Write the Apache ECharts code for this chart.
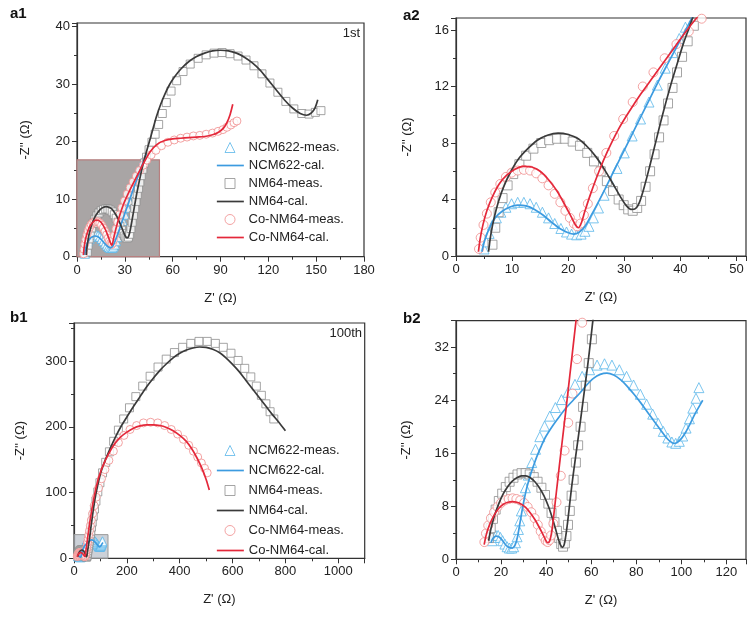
<!DOCTYPE html>
<html><head><meta charset="utf-8">
<script src="https://cdn.jsdelivr.net/npm/echarts@6/dist/echarts.min.js"></script>
<style>html,body{margin:0;padding:0;background:#fff}#c{width:749px;height:621px}</style>
</head><body><div id="c"></div>
<script>
// ---------- 1st cycle ----------
const NCM622_1st_meas = [[5.0,0.5],[5.4,1.0],[5.9,1.6],[6.5,2.2],[7.2,2.7],[8.0,3.1],[8.9,3.45],[9.9,3.7],[11.0,3.8],[12.1,3.8],[13.2,3.7],[14.3,3.45],[15.4,3.1],[16.5,2.7],[17.6,2.3],[18.7,1.95],[19.7,1.7],[20.6,1.55],[21.5,1.5],[22.3,1.55],[23.0,1.75],[23.7,2.1],[24.5,2.7],[25.4,3.4],[26.4,4.3],[27.5,5.2],[28.7,6.2],[30.0,7.3],[31.4,8.5],[32.9,9.7],[34.4,10.9],[35.9,12.1],[37.3,13.3],[38.6,14.4],[39.8,15.4],[40.9,16.2],[41.9,16.9]];
const NCM622_1st_cal = [[4.6,0.3],[5.2,1.2],[6.0,2.0],[7.0,2.7],[8.0,3.1],[9.5,3.45],[11.0,3.6],[12.5,3.55],[14.0,3.3],[15.5,2.9],[17.0,2.4],[18.5,1.95],[20.0,1.65],[21.0,1.55],[22.0,1.7],[23.0,2.1],[24.0,2.8],[26.0,4.3],[28.0,5.9],[30.0,7.5],[32.0,9.1],[34.0,10.7],[36.0,12.3],[38.0,13.8],[40.0,15.3],[42.0,16.8],[43.5,17.9]];
const NM64_1st_meas = [[6.5,0.8],[7.0,2.0],[7.6,3.1],[8.3,4.1],[9.2,5.0],[10.2,5.8],[11.3,6.5],[12.5,7.1],[13.8,7.6],[15.2,8.0],[16.6,8.2],[18.0,8.3],[19.4,8.3],[20.8,8.1],[22.1,7.8],[23.4,7.3],[24.6,6.7],[25.8,6.0],[26.9,5.3],[28.0,4.6],[29.0,4.0],[29.9,3.6],[30.7,3.3],[31.5,3.2],[32.3,3.4],[33.0,3.9],[33.8,4.9],[34.6,6.0],[35.4,7.2],[36.2,8.4],[37.0,9.6],[37.8,10.8],[38.6,11.9],[39.4,13.0],[40.3,14.1],[41.3,15.2],[42.4,16.3],[43.6,17.3],[45.2,18.6],[47.0,19.9],[49.0,21.3],[51.2,23.0],[53.5,24.9],[56.0,26.8],[59.0,28.8],[62.5,30.6],[66.5,32.2],[71.0,33.5],[76.0,34.5],[81.0,35.1],[86.0,35.4],[91.0,35.5],[96.0,35.3],[101.0,34.9],[106.0,34.2],[111.0,33.2],[116.0,31.8],[121.0,30.2],[126.0,28.6],[131.0,27.0],[136.0,25.7],[141.0,24.9],[145.5,24.8],[149.5,25.1],[153.0,25.4]];
const NM64_1st_cal = [[5.8,0.3],[6.2,1.5],[6.8,2.7],[7.6,3.9],[8.6,5.0],[9.8,6.0],[11.2,6.9],[12.8,7.6],[14.5,8.2],[16.3,8.55],[18.2,8.7],[20.0,8.6],[21.8,8.3],[23.5,7.7],[25.0,7.0],[26.5,6.1],[28.0,5.1],[29.3,4.2],[30.3,3.6],[31.2,3.3],[32.0,3.35],[32.7,3.8],[33.5,4.8],[34.5,6.3],[35.5,7.9],[36.5,9.5],[37.5,11.0],[38.5,12.4],[39.5,13.7],[40.5,15.0],[41.5,16.1],[42.5,17.2],[44.0,18.7],[46.0,20.6],[48.0,22.6],[50.0,24.5],[52.5,26.5],[55.0,28.2],[58.0,29.9],[61.0,31.2],[65.0,32.6],[70.0,33.9],[75.0,34.8],[80.0,35.4],[85.0,35.8],[90.0,35.9],[95.0,35.8],[100.0,35.4],[105.0,34.7],[110.0,33.7],[115.0,32.4],[120.0,30.7],[125.0,29.0],[130.0,27.3],[135.0,25.9],[140.0,24.9],[144.0,24.6],[147.0,25.0],[149.3,25.9],[151.0,27.3]];
const CoNM64_1st_meas = [[4.1,0.5],[4.4,1.3],[4.9,2.2],[5.5,3.0],[6.2,3.8],[7.0,4.5],[7.9,5.1],[8.9,5.6],[9.9,5.9],[11.0,6.05],[12.1,6.1],[13.2,6.05],[14.3,5.85],[15.4,5.5],[16.5,5.0],[17.6,4.4],[18.6,3.8],[19.5,3.2],[20.3,2.7],[21.0,2.3],[21.6,2.1],[22.2,2.3],[22.8,2.9],[23.5,3.7],[24.4,4.8],[25.5,6.0],[26.8,7.3],[28.2,8.5],[29.8,9.7],[31.5,10.9],[33.3,12.0],[35.2,13.0],[37.2,14.0],[39.3,15.0],[41.5,15.9],[43.8,16.8],[46.5,17.7],[49.5,18.5],[53.0,19.3],[57.0,19.9],[61.0,20.3],[65.0,20.6],[69.0,20.8],[73.0,21.0],[77.0,21.1],[81.0,21.3],[85.0,21.5],[88.5,21.8],[91.5,22.1],[94.0,22.5],[96.5,22.9],[98.5,23.3],[100.3,23.6]];
const CoNM64_1st_cal = [[4.0,0.3],[4.3,1.2],[4.8,2.2],[5.5,3.2],[6.5,4.2],[7.7,5.1],[9.0,5.7],[10.5,6.15],[12.0,6.35],[13.5,6.3],[15.0,6.0],[16.5,5.4],[18.0,4.6],[19.3,3.7],[20.5,2.8],[21.3,2.2],[21.8,2.0],[22.3,2.3],[23.0,3.2],[24.0,4.4],[25.5,6.0],[27.0,7.4],[29.0,9.0],[31.0,10.3],[33.0,11.5],[35.0,12.6],[37.0,13.7],[39.0,14.8],[41.0,15.9],[43.0,16.9],[46.0,18.3],[50.0,19.5],[55.0,20.2],[60.0,20.5],[65.0,20.6],[70.0,20.7],[75.0,20.8],[80.0,20.9],[85.0,21.2],[89.0,21.7],[92.0,22.4],[94.0,23.3],[96.0,24.7],[97.7,26.5]];

// ---------- 100th cycle ----------
const NCM622_100_meas = [[16.0,2.8],[16.8,3.3],[17.7,3.6],[18.7,3.6],[19.7,3.3],[20.7,2.8],[21.7,2.3],[22.7,1.9],[23.7,1.7],[24.7,1.7],[25.6,1.9],[26.4,2.5],[27.1,3.4],[27.7,4.5],[28.3,5.8],[29.0,7.3],[29.8,9.0],[30.8,10.8],[32.1,12.7],[33.6,14.6],[35.3,16.6],[37.2,18.5],[39.3,20.1],[41.6,21.6],[44.1,22.9],[46.8,24.1],[49.7,25.2],[52.8,26.4],[56.0,27.6],[59.3,28.6],[62.6,29.3],[65.9,29.5],[69.2,29.3],[72.5,28.6],[75.7,27.6],[78.8,26.3],[81.8,24.9],[84.6,23.4],[87.3,21.9],[89.8,20.5],[92.0,19.3],[94.0,18.3],[95.8,17.7],[97.5,17.5],[99.1,17.8],[100.6,18.6],[102.1,19.8],[103.6,21.2],[105.1,22.8],[106.5,24.3],[107.8,25.9]];
const NCM622_100_cal = [[15.5,2.5],[16.5,3.2],[17.8,3.5],[19.0,3.4],[20.5,2.9],[22.0,2.2],[23.5,1.8],[25.0,1.7],[26.3,2.2],[27.3,3.4],[28.3,5.3],[29.3,7.3],[30.3,9.1],[31.5,10.9],[33.0,12.7],[34.5,14.2],[36.0,15.6],[38.0,17.2],[40.0,18.6],[43.0,20.2],[46.0,21.6],[49.0,22.9],[52.0,24.0],[55.0,25.1],[58.0,26.3],[61.0,27.3],[64.0,27.9],[67.0,28.1],[70.0,27.8],[73.0,27.1],[76.0,26.1],[79.0,24.9],[82.0,23.6],[85.0,22.2],[88.0,20.8],[91.0,19.4],[93.0,18.5],[95.0,17.8],[96.5,17.5],[98.0,17.6],[100.0,18.2],[102.0,19.2],[104.0,20.5],[106.0,21.9],[108.0,23.1],[109.5,24.0]];
const NM64_100_meas = [[14.6,3.2],[15.4,4.7],[16.4,6.1],[17.6,7.5],[19.0,8.8],[20.5,9.9],[22.1,10.9],[23.8,11.7],[25.5,12.3],[27.3,12.8],[29.1,13.0],[30.9,13.0],[32.7,12.8],[34.5,12.4],[36.2,11.7],[37.9,10.8],[39.5,9.7],[41.0,8.4],[42.4,7.0],[43.7,5.6],[44.8,4.3],[45.8,3.2],[46.7,2.3],[47.5,1.9],[48.3,2.4],[49.0,3.5],[49.7,5.2],[50.5,7.3],[51.3,9.6],[52.2,12.0],[53.2,14.6],[54.2,17.2],[55.3,20.0],[56.4,23.0],[57.6,26.2],[58.9,29.6],[60.3,33.2],[61.8,37.0],[63.6,41.4],[66.0,47.5],[69.0,55.0],[72.8,64.0],[77.5,75.0],[83.0,87.0],[90.0,101.0],[98.0,115.0],[108.0,130.0],[120.0,146.0],[134.0,162.0],[150.0,178.0],[168.0,195.0],[188.0,212.0],[210.0,229.0],[234.0,246.0],[260.0,262.0],[288.0,277.0],[318.0,291.0],[349.0,303.0],[380.0,313.0],[411.0,321.0],[442.0,327.0],[473.0,330.0],[504.0,330.0],[535.0,327.0],[565.0,321.0],[594.0,312.0],[621.0,301.0],[646.0,289.0],[669.0,276.0],[690.0,262.0],[709.0,248.0],[726.0,235.0],[742.0,223.0],[756.0,212.0]];
const NM64_100_cal = [[14.5,2.8],[15.5,4.6],[17.0,6.5],[19.0,8.4],[21.0,9.9],[23.0,11.0],[25.0,11.8],[27.0,12.3],[29.0,12.6],[31.0,12.6],[33.0,12.3],[35.0,11.7],[37.0,10.8],[39.0,9.6],[41.0,8.0],[42.5,6.5],[44.0,4.8],[45.3,3.2],[46.3,2.2],[47.2,1.8],[48.0,2.2],[48.7,3.5],[49.5,5.5],[50.5,8.5],[51.5,11.4],[52.5,14.0],[53.5,16.5],[54.5,19.0],[55.5,21.6],[56.5,24.2],[57.5,26.8],[58.5,29.4],[59.5,32.3],[60.5,35.3],[61.5,38.3],[63.0,44.0],[66.0,53.0],[70.0,65.0],[75.0,79.0],[81.0,94.0],[88.0,108.0],[96.0,122.0],[105.0,135.0],[115.0,146.0],[125.0,156.0],[140.0,170.0],[160.0,187.0],[180.0,202.0],[200.0,215.0],[225.0,231.0],[250.0,246.0],[275.0,261.0],[300.0,274.0],[325.0,286.0],[350.0,296.0],[375.0,305.0],[400.0,312.0],[425.0,317.0],[450.0,320.0],[475.0,321.5],[500.0,321.0],[525.0,318.0],[550.0,313.0],[575.0,305.0],[600.0,295.0],[625.0,284.0],[650.0,271.0],[675.0,258.0],[700.0,245.0],[725.0,232.0],[750.0,219.0],[775.0,207.0],[800.0,194.0]];
const CoNM64_100_meas = [[12.6,2.6],[13.3,3.9],[14.3,5.1],[15.5,6.2],[16.9,7.1],[18.4,7.9],[20.0,8.5],[21.7,8.9],[23.4,9.1],[25.1,9.2],[26.8,9.1],[28.5,8.9],[30.2,8.5],[31.8,7.9],[33.4,7.1],[34.9,6.2],[36.3,5.2],[37.6,4.2],[38.8,3.4],[39.8,2.8],[40.7,2.6],[41.5,2.9],[42.2,3.6],[43.2,5.4],[44.6,8.6],[46.5,12.6],[48.2,16.4],[49.8,20.6],[51.7,25.0],[53.7,30.2],[56.0,35.7],[58.6,42.0],[61.8,49.5],[65.7,58.0],[70.5,68.0],[76.5,80.0],[84.0,93.0],[93.0,107.0],[104.0,121.0],[117.0,135.0],[132.0,149.0],[149.0,163.0],[168.0,176.0],[189.0,187.0],[212.0,196.0],[237.0,202.0],[263.0,206.0],[290.0,207.0],[317.0,206.0],[343.0,202.0],[368.0,196.0],[392.0,189.0],[414.0,181.0],[434.0,172.0],[452.0,163.0],[468.0,154.0],[482.0,145.0],[494.0,137.0],[504.0,130.0]];
const CoNM64_100_cal = [[12.5,2.2],[13.5,3.8],[15.0,5.3],[17.0,6.7],[19.0,7.7],[21.0,8.3],[23.0,8.6],[25.0,8.7],[27.0,8.6],[29.0,8.3],[31.0,7.8],[33.0,7.0],[35.0,6.0],[37.0,4.8],[38.5,3.8],[39.8,2.9],[40.7,2.5],[41.5,2.7],[42.3,3.8],[43.0,5.5],[44.0,8.5],[45.0,11.5],[46.0,14.5],[47.0,17.4],[48.0,20.3],[49.0,23.2],[50.0,26.2],[51.0,29.2],[52.0,32.2],[53.0,35.2],[54.0,38.2],[56.0,44.0],[58.0,50.0],[61.0,58.0],[65.0,68.0],[70.0,80.0],[80.0,101.0],[90.0,118.0],[100.0,131.0],[115.0,146.0],[130.0,158.0],[150.0,172.0],[175.0,184.0],[200.0,192.0],[225.0,198.0],[250.0,201.5],[275.0,203.0],[300.0,203.0],[325.0,202.0],[350.0,199.0],[375.0,194.0],[400.0,187.0],[425.0,178.0],[445.0,167.0],[465.0,153.0],[485.0,136.0],[500.0,120.0],[512.0,104.0]];

// ---------- names / ticks ----------
const seriesNames = ['NCM622-meas.','NCM622-cal.','NM64-meas.','NM64-cal.','Co-NM64-meas.','Co-NM64-cal.'];
const panelLabels = ['a1','a2','b1','b2'];
const cycleLabels = ['1st','100th'];
const xName = "Z' (\u03A9)";
const yName = "-Z'' (\u03A9)";
// axis ranges [min, max, step]
const xRanges = [[0,180,30],[0,51.7,10],[0,1100,200],[0,128.7,20]];
const yRanges = [[0,40.64,10],[0,16.85,4],[0,358,100],[0,36,8]];

const FONT = '"Liberation Sans", Arial, Helvetica, sans-serif';
const C = {
  blueMeas:'#5ab6ea', blueCal:'#3c9be0',
  grayMeas:'#8e8e8e', grayCal:'#3a3a3a',
  redMeas:'#f08c8c', redCal:'#e4283a'
};

const grids = [
  {left:77, top:23, width:287, height:233.7},
  {left:456, top:18, width:291, height:238},
  {left:74, top:323, width:290.7, height:235.3},
  {left:456, top:320.7, width:291, height:238.6}
].map(g => Object.assign({show:true, borderColor:'#333', borderWidth:1.2, backgroundColor:'transparent'}, g));

function fmt(step){ return v => { const r = v/step; return Math.abs(r-Math.round(r))<1e-6 ? String(Math.round(v*1000)/1000) : ''; }; }
const lineCol = '#333';
function axisBase(i, rng, isX, gap){
  return {
    gridIndex:i, type:'value', min:rng[0], max:rng[1], interval:rng[2],
    name: isX ? xName : yName, nameLocation:'middle', nameGap:gap, nameRotate: isX?0:90,
    nameTextStyle:{fontFamily:FONT, fontSize:13, color:'#222'},
    axisLine:{show:true, onZero:false, lineStyle:{color:lineCol, width:1.2}},
    axisTick:{show:true, inside:false, length:5, lineStyle:{color:lineCol, width:1}},
    minorTick:{show:true, splitNumber:2, length:3, lineStyle:{color:lineCol, width:1}},
    splitLine:{show:false}, minorSplitLine:{show:false},
    axisLabel:{fontFamily:FONT, fontSize:13, color:'#222', margin:7, formatter:fmt(rng[2])}
  };
}
const xAxes = [0,1,2,3].map(i => axisBase(i, xRanges[i], true, 35));
const yGaps = [45, 42, 47, 43];
const yAxes = [0,1,2,3].map(i => axisBase(i, yRanges[i], false, yGaps[i]));

const sets = [
  [NCM622_1st_meas, NCM622_1st_cal, NM64_1st_meas, NM64_1st_cal, CoNM64_1st_meas, CoNM64_1st_cal],
  [NCM622_100_meas, NCM622_100_cal, NM64_100_meas, NM64_100_cal, CoNM64_100_meas, CoNM64_100_cal]
];
const styles = [
  {type:'scatter', symbol:'triangle', color:C.blueMeas},
  {type:'line', color:C.blueCal},
  {type:'scatter', symbol:'rect', color:C.grayMeas},
  {type:'line', color:C.grayCal},
  {type:'scatter', symbol:'circle', color:C.redMeas},
  {type:'line', color:C.redCal}
];
const series = [];
[0,1,2,3].forEach(p => {
  const set = sets[p < 2 ? 0 : 1];
  const msize = (p === 0 || p === 2) ? 8 : 9;
  styles.forEach((st, k) => {
    const base = {name:seriesNames[k], data:set[k], xAxisIndex:p, yAxisIndex:p, clip:true, animation:false, emphasis:{disabled:true}, silent:true};
    let s;
    if (st.type === 'scatter') {
      s = Object.assign(base, {type:'scatter', symbol:st.symbol, symbolKeepAspect:true, symbolSize: st.symbol==='triangle'? msize+1 : msize, z:2,
        itemStyle:{color:'#fff', borderColor:st.color, borderWidth:1}});
    } else {
      s = Object.assign(base, {type:'line', symbol:'none', smooth:0.3, z:3,
        lineStyle:{color:st.color, width:1.7}, itemStyle:{color:st.color}});
    }
    if (k === 0 && p === 0) {
      s.markArea = {silent:true, z:1, itemStyle:{color:'#a9a5a5', borderColor:'#b77f7f', borderWidth:1.2},
        data:[[{coord:[0,0]},{coord:[xRanges[1][1], yRanges[1][1]]}]]};
    }
    if (k === 0 && p === 2) {
      s.markArea = {silent:true, z:1, itemStyle:{color:'rgba(170,178,190,0.6)', borderColor:'#999', borderWidth:1},
        data:[[{coord:[0,0]},{coord:[xRanges[3][1], yRanges[3][1]]}]]};
    }
    series.push(s);
  });
});

// one single-entry legend per row: line entries get a long stroke icon, marker entries a square box
const legendPanels = [{left:216, top:141, step:18}, {left:216, top:444, step:20}];
const legends = [];
legendPanels.forEach(lp => {
  seriesNames.forEach((n, k) => {
    const st = styles[k];
    const common = {orient:'vertical', selectedMode:false, padding:0, backgroundColor:'transparent', itemHeight:10,
      top: lp.top + k*lp.step};
    if (st.type === 'scatter') {
      legends.push(Object.assign(common, {left: lp.left + 8.5, itemWidth:10, symbolKeepAspect:true,
        textStyle:{fontFamily:FONT, fontSize:13, color:'#222', padding:[0,0,0,8.5]},
        data:[{name:n, icon:st.symbol, itemStyle:{color:'#fff', borderColor:st.color, borderWidth:1}}]}));
    } else {
      legends.push(Object.assign(common, {left: lp.left, itemWidth:27,
        textStyle:{fontFamily:FONT, fontSize:13, color:'#222'},
        data:[{name:n, itemStyle:{color:'rgba(0,0,0,0)', borderColor:'rgba(0,0,0,0)', borderWidth:0, opacity:0},
               lineStyle:{color:st.color, width:1.7}}]}));
    }
  });
});

const labelPos = [[10,6],[403,8],[10,310],[403,311]];
const graphics = panelLabels.map((t,i) => ({type:'text', x:labelPos[i][0], y:labelPos[i][1], silent:true,
  style:{text:t, font:'bold 15px '+FONT, fill:'#111', textAlign:'left', textVerticalAlign:'top'}}));
graphics.push({type:'text', x:360, y:27, silent:true, style:{text:cycleLabels[0], font:'13px '+FONT, fill:'#222', textAlign:'right', textVerticalAlign:'top'}});
graphics.push({type:'text', x:362, y:327, silent:true, style:{text:cycleLabels[1], font:'13px '+FONT, fill:'#222', textAlign:'right', textVerticalAlign:'top'}});

const chart = echarts.init(document.getElementById('c'), null, {renderer:'canvas'});
chart.setOption({
  animation:false, backgroundColor:'#fff',
  grid:grids, xAxis:xAxes, yAxis:yAxes, legend:legends, series:series, graphic:graphics
});
</script></body></html>
